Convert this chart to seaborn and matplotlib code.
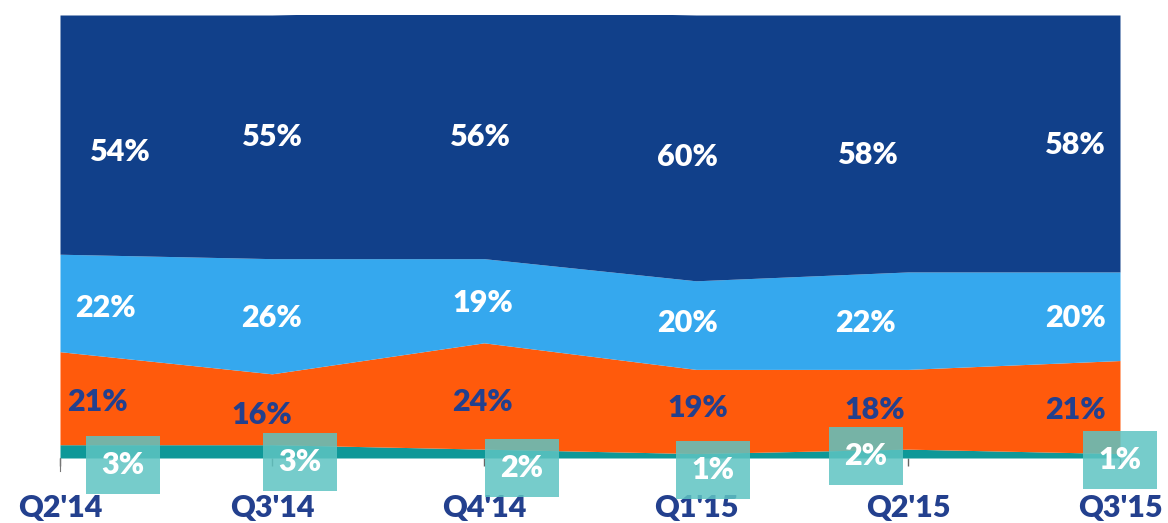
import numpy as np
import matplotlib
matplotlib.use("Agg")
import matplotlib.pyplot as plt
import seaborn as sns

# ── data ─────────────────────────────────────────────
quarters = ["Q2'14", "Q3'14", "Q4'14", "Q1'15", "Q2'15", "Q3'15"]
teal = [3, 3, 2, 1, 2, 1]
orange = [21, 16, 24, 19, 18, 21]
light_blue = [22, 26, 19, 20, 22, 20]
navy = [54, 55, 56, 60, 58, 58]

# ── style ────────────────────────────────────────────
sns.set_theme(style="white")
plt.rcParams["font.family"] = ["Lato", "DejaVu Sans"]

C_NAVY = "#11408A"
C_LBLUE = "#35A8EE"
C_ORANGE = "#FF5A0C"
C_TEAL = "#0E9898"
C_BOX = "#5EC4C2"
C_TXT = "#23408E"

W, H = 1168, 523
fig = plt.figure(figsize=(W / 100, H / 100), dpi=100)
ax = fig.add_axes([60 / W, (H - 458) / H, (1120 - 60) / W, (458 - 15) / H])

x = np.arange(len(quarters))
ax.stackplot(x, teal, orange, light_blue, navy,
             colors=[C_TEAL, C_ORANGE, C_LBLUE, C_NAVY], linewidth=0)
ax.set_xlim(0, len(quarters) - 1)
ax.set_ylim(0, 100)
ax.set_yticks([])
ax.set_xticks(x)
ax.set_xticklabels(quarters, fontsize=22, fontweight="heavy", color=C_TXT)
ax.tick_params(axis="x", length=6, width=1, color="#666666", pad=20, bottom=True)
for s in ["top", "right", "bottom"]:
    ax.spines[s].set_visible(False)
ax.spines["left"].set_color("#777777")
ax.spines["left"].set_linewidth(0.8)
ax.spines["left"].set_bounds(-3, 0)

# ── value labels (pixel positions of the original layout) ──
def px(xp, yp):
    return ((xp - 60) / 1060) * (len(quarters) - 1), (458 - yp) / 443 * 100

navy_pos = [(120, 152), (272, 137), (480, 137), (687, 157), (868, 155), (1075, 145)]
lblue_pos = [(105, 308), (272, 318), (483, 303), (687, 323), (865, 323), (1075, 318)]
orange_pos = [(97, 402), (262, 415), (482, 402), (698, 408), (875, 410), (1075, 410)]
teal_pos = [(123, 465), (300, 462), (522, 468), (713, 470), (866, 456), (1120, 460)]

kw = dict(ha="center", va="center", fontsize=22, fontweight="heavy", clip_on=False)
for v, p in zip(navy, navy_pos):
    ax.text(*px(*p), f"{v}%", color="white", **kw)
for v, p in zip(light_blue, lblue_pos):
    ax.text(*px(*p), f"{v}%", color="white", **kw)
for v, p in zip(orange, orange_pos):
    ax.text(*px(*p), f"{v}%", color=C_TXT, **kw)
for v, p in zip(teal, teal_pos):
    ax.text(*px(*p), f"{v}%", color="white",
            bbox=dict(boxstyle="square,pad=0.5", fc=C_BOX, ec="none", alpha=0.85),
            **kw)

fig.savefig("out.png", dpi=100)
